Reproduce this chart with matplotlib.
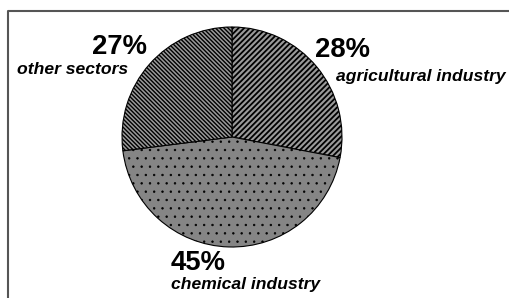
import matplotlib
matplotlib.use('Agg')
import matplotlib.pyplot as plt
from matplotlib.lines import Line2D

plt.rcParams['font.family'] = ['Liberation Sans', 'DejaVu Sans']
plt.rcParams['hatch.linewidth'] = 1.2

sectors = ['agricultural industry', 'chemical industry', 'other sectors']
shares = [28, 45, 27]
fills = ['#9a9a9a', '#858585', '#9a9a9a']
hatches = ['//////', '..', '\\\\\\\\\\\\\\\\']
hatch_lw = [1.3, 0.5, 1.0]

fig = plt.figure(figsize=(5.09, 2.98), dpi=100)
fig.patch.set_facecolor('white')

# gray frame, only left and top edges are visible
x0, y0 = 7.5 / 509, 1 - 10.5 / 298
fig.add_artist(Line2D([x0, x0, 1.0], [0.0, y0, y0], transform=fig.transFigure,
                      color='#555555', linewidth=1.5))

ax = fig.add_axes([122 / 509, 51 / 298, 220 / 509, 220 / 298])
wedges, _ = ax.pie(shares, startangle=90, counterclock=False, colors=fills,
                   wedgeprops=dict(edgecolor='black', linewidth=0.8))
for w, h, lw in zip(wedges, hatches, hatch_lw):
    w.set_hatch(h)
    if hasattr(w, 'set_hatch_linewidth'):
        w.set_hatch_linewidth(lw)
ax.set_xlim(-1.0, 1.0)
ax.set_ylim(-1.0, 1.0)
ax.set_aspect('equal')
ax.axis('off')

# labels: (percent x, percent y, ha), (name x, name y, ha) in pixels
label_pos = [
    ((315, 50, 'left'), (336, 76, 'left')),
    ((171, 263, 'left'), (171, 285, 'left')),
    ((147, 47, 'right'), (128, 70, 'right')),
]
for name, val, (p, n) in zip(sectors, shares, label_pos):
    fig.text(p[0] / 509, 1 - p[1] / 298, f'{val}%', ha=p[2], va='center',
             fontsize=19.8, fontweight='bold')
    fig.text(n[0] / 509, 1 - n[1] / 298, name, ha=n[2], va='center',
             fontsize=12.6, fontweight='bold', fontstyle='italic')

fig.savefig('out.png', dpi=100)
